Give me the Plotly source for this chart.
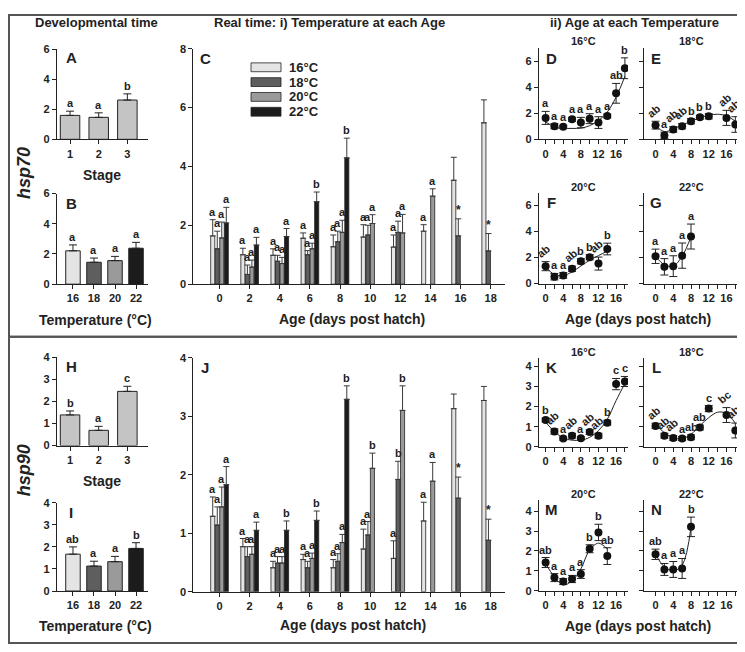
import plotly.graph_objects as go

# The page body keeps its default 8px margin, so the figure is drawn 8px smaller
# and all positions below are given in screen pixels of the 745x652 window.
OFF = 8
W, H = 745 - OFF, 652 - OFF
FONT = "Liberation Sans, Arial, sans-serif"
INK = "#222222"

# ---------------- data ----------------
STAGES = ["1", "2", "3"]
TEMPS = ["16", "18", "20", "22"]
TEMP_NAMES = ["16°C", "18°C", "20°C", "22°C"]
AGES = [0, 2, 4, 6, 8, 10, 12, 14, 16, 18]

# hsp70 - developmental time
a_mean = [1.59, 1.46, 2.61]
a_se = [0.28, 0.30, 0.41]
a_lab = ["a", "a", "b"]
b_mean = [2.21, 1.45, 1.56, 2.38]
b_se = [0.39, 0.28, 0.28, 0.39]
b_lab = ["a", "a", "a", "a"]

# hsp90 - developmental time
h_mean = [1.39, 0.69, 2.46]
h_se = [0.18, 0.18, 0.23]
h_lab = ["b", "a", "c"]
i_mean = [1.67, 1.13, 1.33, 1.93]
i_se = [0.33, 0.22, 0.24, 0.26]
i_lab = ["ab", "a", "a", "b"]

# hsp70 - temperature at each age (panel C)
c16 = [1.64, 1.00, 0.98, 1.56, 1.27, 1.60, 1.26, 1.80, 3.53, 5.48]
c16_se = [0.55, 0.22, 0.22, 0.18, 0.40, 0.42, 0.41, 0.22, 0.78, 0.78]
c18 = [1.20, 0.33, 0.78, 1.00, 1.44, 1.67, 1.76, None, 1.64, 1.13]
c18_se = [0.60, 0.32, 0.20, 0.14, 0.36, 0.33, 0.38, None, 0.58, 0.59]
c20 = [1.57, 0.58, 0.70, 1.20, 1.76, 2.06, 1.74, 2.99, None, None]
c20_se = [0.54, 0.24, 0.21, 0.19, 0.41, 0.30, 0.63, 0.25, None, None]
c22 = [2.08, 1.33, 1.62, 2.80, 4.29, None, None, None, None, None]
c22_se = [0.53, 0.26, 0.27, 0.33, 0.67, None, None, None, None, None]
c16_lab = ["a", "a", "a", "a", "a", "a", "a", "a", "", ""]
c18_lab = ["a", "a", "a", "a", "a", "a", "a", "", "*", "*"]
c20_lab = ["a", "a", "a", "a", "a", "a", "a", "a", "", ""]
c22_lab = ["a", "a", "a", "b", "b", "", "", "", "", ""]

# hsp90 - temperature at each age (panel J)
j16 = [1.29, 0.77, 0.41, 0.55, 0.41, 0.73, 0.57, 1.21, 3.13, 3.27]
j16_se = [0.33, 0.14, 0.11, 0.09, 0.14, 0.34, 0.30, 0.32, 0.25, 0.24]
j18 = [1.14, 0.60, 0.49, 0.41, 0.52, 0.97, 1.92, None, 1.60, 0.88]
j18_se = [0.31, 0.17, 0.11, 0.11, 0.13, 0.23, 0.31, None, 0.36, 0.36]
j20 = [1.45, 0.64, 0.49, 0.57, 0.84, 2.11, 3.10, 1.89, None, None]
j20_se = [0.34, 0.13, 0.11, 0.09, 0.14, 0.26, 0.42, 0.32, None, None]
j22 = [1.83, 1.05, 1.05, 1.22, 3.29, None, None, None, None, None]
j22_se = [0.31, 0.14, 0.16, 0.16, 0.23, None, None, None, None, None]
j16_lab = ["a", "a", "a", "a", "a", "a", "a", "a", "", ""]
j18_lab = ["a", "a", "a", "a", "a", "a", "b", "", "*", "*"]
j20_lab = ["a", "a", "a", "a", "a", "b", "b", "a", "", ""]
j22_lab = ["a", "a", "b", "b", "b", "", "", "", "", ""]

# age at each temperature (hsp70: D-G, hsp90: K-N)
d_age = [0, 2, 4, 6, 8, 10, 12, 14, 16, 18]
d_mean = [1.65, 1.01, 0.96, 1.54, 1.29, 1.59, 1.29, 1.80, 3.54, 5.47]
d_se = [0.50, 0.20, 0.12, 0.15, 0.40, 0.38, 0.45, 0.15, 0.76, 0.80]
d_lab = ["a", "a", "a", "a", "a", "a", "a", "a", "ab", "b"]
d_fit = [1.35, 0.95, 0.85, 0.84, 0.86, 1.05, 1.45, 2.10, 3.25, 4.85]

e_age = [0, 2, 4, 6, 8, 10, 12, 16, 18]
e_mean = [1.09, 0.30, 0.76, 1.01, 1.39, 1.70, 1.77, 1.65, 1.14]
e_se = [0.30, 0.25, 0.22, 0.20, 0.20, 0.15, 0.20, 0.58, 0.60]
e_lab = ["ab", "a", "ab", "ab", "b", "b", "b", "ab", "ab"]
e_fit_age = [0, 2, 4, 6, 8, 10, 12, 14, 16, 18]
e_fit = [1.05, 0.60, 0.78, 1.10, 1.40, 1.65, 1.85, 1.93, 1.80, 1.40]

f_age = [0, 2, 4, 6, 8, 10, 12, 14]
f_mean = [1.34, 0.53, 0.63, 1.14, 1.72, 2.03, 1.54, 2.66]
f_se = [0.35, 0.25, 0.22, 0.20, 0.20, 0.20, 0.50, 0.45]
f_lab = ["ab", "a", "a", "ab", "b", "b", "ab", "b"]
f_fit = [1.30, 0.70, 0.62, 0.90, 1.35, 1.80, 2.15, 2.50]

g_age = [0, 2, 4, 6, 8]
g_mean = [2.10, 1.29, 1.34, 2.15, 3.62]
g_se = [0.55, 0.63, 0.80, 0.97, 0.96]
g_lab = ["a", "a", "a", "a", "a"]
g_fit = [2.10, 1.45, 1.35, 2.10, 3.60]

k_age = [0, 2, 4, 6, 8, 10, 12, 14, 16, 18]
k_mean = [1.33, 0.76, 0.41, 0.55, 0.42, 0.73, 0.55, 1.20, 3.12, 3.25]
k_se = [0.10, 0.13, 0.08, 0.12, 0.08, 0.12, 0.12, 0.12, 0.28, 0.25]
k_lab = ["b", "ab", "a", "ab", "a", "ab", "ab", "b", "c", "c"]
k_fit = [1.22, 0.76, 0.44, 0.33, 0.33, 0.47, 0.81, 1.37, 2.30, 3.15]

l_age = [0, 2, 4, 6, 8, 10, 12, 16, 18]
l_mean = [1.04, 0.55, 0.44, 0.41, 0.47, 0.96, 1.90, 1.58, 0.81]
l_se = [0.13, 0.12, 0.12, 0.10, 0.12, 0.12, 0.15, 0.37, 0.37]
l_lab = ["ab", "ab", "ab", "a", "ab", "ab", "c", "bc", "ab"]
l_fit_age = [0, 2, 4, 6, 8, 10, 12, 14, 16, 18]
l_fit = [1.12, 0.70, 0.45, 0.40, 0.62, 1.05, 1.45, 1.72, 1.66, 1.17]

m_age = [0, 2, 4, 6, 8, 10, 12, 14]
m_mean = [1.42, 0.66, 0.46, 0.59, 0.84, 2.11, 2.93, 1.74]
m_se = [0.25, 0.20, 0.15, 0.18, 0.22, 0.20, 0.41, 0.42]
m_lab = ["ab", "a", "a", "a", "a", "b", "b", "ab"]
m_fit = [1.37, 0.70, 0.30, 0.50, 1.10, 2.05, 2.39, 2.10]

n_age = [0, 2, 4, 6, 8]
n_mean = [1.83, 1.07, 1.07, 1.12, 3.21]
n_se = [0.26, 0.30, 0.40, 0.50, 0.49]
n_lab = ["ab", "a", "a", "a", "b"]
n_fit = [1.83, 1.20, 1.00, 1.28, 3.20]

# ---------------- styling ----------------
BAR_GREYS = ["#e4e4e4", "#5e5e5e", "#9a9a9a", "#1c1c1c"]
STAGE_GREY = "#c4c4c4"
BARGAP = 0.4
TILT = {"E": {0, 2, 3, 7, 8}, "F": {0, 3, 6}, "K": {1, 3, 5, 6}, "L": {0, 1, 2, 7, 8}}

fig = go.Figure()
layout = {}
ann = []
shapes = []


def X(p):
    return (p - OFF) / W


def Y(p):
    return 1 - (p - OFF) / H


def tfont(size, bold=True, color=INK, italic=False):
    d = dict(family=FONT, size=size, color=color, weight="bold" if bold else "normal")
    if italic:
        d["style"] = "italic"
    return d


def panel(n, x0, x1, ytop, ybot, xr, yr, xtickvals, xticktext, ytickvals, ylabels=True):
    sx = "" if n == 1 else str(n)
    common = dict(showline=True, linecolor=INK, linewidth=1.2, ticks="outside", ticklen=4,
                  tickwidth=1, tickcolor=INK, showgrid=False, zeroline=False,
                  tickfont=tfont(11), fixedrange=True)
    layout["xaxis" + sx] = dict(common, domain=[X(x0), X(x1)], range=xr, anchor="y" + sx,
                                tickmode="array", tickvals=xtickvals, ticktext=xticktext)
    layout["yaxis" + sx] = dict(common, domain=[Y(ybot), Y(ytop)], range=yr,
                                anchor="x" + sx, tickmode="array", tickvals=ytickvals,
                                showticklabels=ylabels)
    return "x" + sx, "y" + sx


def text(x, y, s, size, bold=True, italic=False, angle=0, xanchor="center"):
    ann.append(dict(x=X(x), y=Y(y), xref="paper", yref="paper", text=s, showarrow=False,
                    font=tfont(size, bold, italic=italic), textangle=angle,
                    xanchor=xanchor, yanchor="middle"))


def err(se, color=INK, width=3, up_only=True):
    d = dict(type="data", array=se, color=color, thickness=1, width=width, visible=True)
    if up_only:
        d.update(symmetric=False, arrayminus=[0] * len(se))
    return d


def bar_labels(xa, ya, xs, means, ses, labs, size=10):
    for x, m, s, t in zip(xs, means, ses, labs):
        if m is None or not t:
            continue
        ann.append(dict(x=x, y=m + s, xref=xa, yref=ya, text=t, showarrow=False,
                        font=tfont(size if t != "*" else 12), xanchor="center",
                        yanchor="bottom", yshift=0))


# ---- simple bar panels (A, B, H, I) ----
def stage_panel(n, ytop, ybot, ymax, means, ses, labs, letter):
    xa, ya = panel(n, 57, 148, ytop, ybot, [0.545, 3.72], [0, ymax], [1, 2, 3], STAGES,
                   list(range(0, ymax + 1, 2 if ymax > 4 else 1)))
    fig.add_trace(go.Bar(x=[1, 2, 3], y=means, width=0.68, xaxis=xa, yaxis=ya,
                         marker=dict(color=STAGE_GREY, line=dict(color=INK, width=1)),
                         error_y=err(ses, width=4), showlegend=False))
    bar_labels(xa, ya, [1, 2, 3], means, ses, labs, 11)
    text(72, ytop + 9, letter, 15)


def temp_panel(n, ytop, ybot, ymax, means, ses, labs, letter):
    xa, ya = panel(n, 57, 148, ytop, ybot, [-0.76, 3.57], [0, ymax], [0, 1, 2, 3], TEMPS,
                   list(range(0, ymax + 1, 2 if ymax > 4 else 1)))
    fig.add_trace(go.Bar(x=[0, 1, 2, 3], y=means, width=0.69, xaxis=xa, yaxis=ya,
                         marker=dict(color=BAR_GREYS, line=dict(color=INK, width=1)),
                         error_y=err(ses, width=4), showlegend=False))
    bar_labels(xa, ya, [0, 1, 2, 3], means, ses, labs, 11)
    text(71, ytop + 10, letter, 15)


stage_panel(1, 43.7, 135.7, 6, a_mean, a_se, a_lab, "A")
temp_panel(2, 191, 283.3, 6, b_mean, b_se, b_lab, "B")
stage_panel(3, 358, 447.7, 4, h_mean, h_se, h_lab, "H")
temp_panel(4, 506, 596, 4, i_mean, i_se, i_lab, "I")


# ---- grouped bar panels (C, J) ----
def age_bars(n, ytop, ybot, ymax, ystep, series, ses, labs, letter):
    xa, ya = panel(n, 193.3, 505, ytop, ybot, [-1.74, 18.95], [0, ymax], AGES,
                   [str(a) for a in AGES], list(range(0, ymax + 1, ystep)))
    slot = 2 * (1 - BARGAP) / 4
    for k, (vals, se, lab) in enumerate(zip(series, ses, labs)):
        se0 = [s if s is not None else 0 for s in se]
        fig.add_trace(go.Bar(x=AGES, y=vals, xaxis=xa, yaxis=ya, name=TEMP_NAMES[k],
                             marker=dict(color=BAR_GREYS[k], line=dict(color=INK, width=0.8)),
                             error_y=err(se0, color="#3a3a3a", width=3),
                             showlegend=False))
        xs = [a + (k - 1.5) * slot for a in AGES]
        bar_labels(xa, ya, xs, vals, se0, lab, 11)
    text(205, ytop + 10, letter, 15)


age_bars(5, 43.3, 283.3, 8, 2, [c16, c18, c20, c22], [c16_se, c18_se, c20_se, c22_se],
         [c16_lab, c18_lab, c20_lab, c22_lab], "C")
age_bars(6, 358.3, 596.7, 4, 1, [j16, j18, j20, j22], [j16_se, j18_se, j20_se, j22_se],
         [j16_lab, j18_lab, j20_lab, j22_lab], "J")

# legend for C
for k, name in enumerate(TEMP_NAMES):
    yc = 62.3 + k * 15.1
    shapes.append(dict(type="rect", xref="paper", yref="paper", x0=X(251), x1=X(281),
                       y0=Y(yc + 4.5), y1=Y(yc - 4.5),
                       fillcolor=BAR_GREYS[k], line=dict(color=INK, width=0.8)))
    text(287, yc, name, 13, xanchor="left")


# ---- age-at-temperature panels ----
AGE_TICKS = list(range(0, 19, 2))
AGE_TEXT = [str(a) if a % 4 == 0 else "" for a in AGE_TICKS]


def age_panel(n, key, x0, x1, ytop, ybot, xr, ymax, ytv, ylabels, age, mean, se, lab,
              fit_age, fit, title, ty):
    xa, ya = panel(n, x0, x1, ytop, ybot, xr, [0, ymax], AGE_TICKS, AGE_TEXT, ytv, ylabels)
    fig.add_trace(go.Scatter(x=fit_age, y=fit, mode="lines",
                             line=dict(color=INK, width=1, shape="spline"),
                             xaxis=xa, yaxis=ya, showlegend=False, hoverinfo="skip"))
    fig.add_trace(go.Scatter(x=age, y=mean, mode="markers", xaxis=xa, yaxis=ya, showlegend=False,
                             marker=dict(color="#111111", size=8),
                             error_y=err(se, color=INK, width=4, up_only=False)))
    tilt = TILT.get(key, set())
    for idx, (a, m, s, t) in enumerate(zip(age, mean, se, lab)):
        rot = idx in tilt
        ann.append(dict(x=a, y=m + s, xref=xa, yref=ya, text=t, showarrow=False,
                        font=tfont(11), textangle=-40 if rot else 0,
                        xanchor="center", yanchor="bottom", yshift=-1 if rot else 0,
                        xshift=-2 if rot else 0))
    text(x0 + 12, ytop + 10, key, 15)
    text((x0 + x1) / 2, ty, title, 11)


DX, EX = (539, 628, [-1.5, 18.7]), (644, 738, [-2.6, 18.6])
age_panel(7, "D", *DX[:2], 43, 135.7, DX[2], 7, [0, 2, 4, 6], True, d_age, d_mean, d_se, d_lab,
          d_age, d_fit, TEMP_NAMES[0], 36)
age_panel(8, "E", *EX[:2], 43, 135.7, EX[2], 7, [0, 2, 4, 6], False, e_age, e_mean, e_se, e_lab,
          e_fit_age, e_fit, TEMP_NAMES[1], 36)
age_panel(9, "F", *DX[:2], 190, 282.7, DX[2], 7, [0, 2, 4, 6], True, f_age, f_mean, f_se, f_lab,
          f_age, f_fit, TEMP_NAMES[2], 184)
age_panel(10, "G", *EX[:2], 190, 282.7, EX[2], 7, [0, 2, 4, 6], False, g_age, g_mean, g_se, g_lab,
          g_age, g_fit, TEMP_NAMES[3], 184)
age_panel(11, "K", *DX[:2], 358.5, 449, DX[2], 4.42, [0, 1, 2, 3, 4], True, k_age, k_mean, k_se,
          k_lab, k_age, k_fit, TEMP_NAMES[0], 352)
age_panel(12, "L", *EX[:2], 358.5, 449, EX[2], 4.42, [0, 1, 2, 3, 4], False, l_age, l_mean, l_se,
          l_lab, l_fit_age, l_fit, TEMP_NAMES[1], 352)
age_panel(13, "M", *DX[:2], 503, 595.7, DX[2], 4.57, [0, 1, 2, 3, 4], True, m_age, m_mean, m_se,
          m_lab, m_age, m_fit, TEMP_NAMES[2], 497)
age_panel(14, "N", *EX[:2], 503, 595.7, EX[2], 4.57, [0, 1, 2, 3, 4], False, n_age, n_mean, n_se,
          n_lab, n_age, n_fit, TEMP_NAMES[3], 497)

# ---- headers, axis titles ----
text(96, 17, "Developmental time", 13)
text(329, 17, "Real time: i) Temperature at each Age", 13)
text(634, 17, "ii) Age at each Temperature", 13)
text(24, 170, "hsp70", 18, italic=True, angle=-90)
text(24, 473, "hsp90", 18, italic=True, angle=-90)
text(102, 172, "Stage", 14)
text(102, 484, "Stage", 14)
text(95, 320, "Temperature (°C)", 14)
text(95, 632, "Temperature (°C)", 14)
text(352, 319, "Age (days post hatch)", 14)
text(638, 319, "Age (days post hatch)", 14)
text(353, 631, "Age (days post hatch)", 14)
text(638, 632, "Age (days post hatch)", 14)

# frames (the left/top edges sit at the body margin)
for y0, y1 in [(OFF + 1, 337), (337, 649)]:
    shapes.append(dict(type="rect", xref="paper", yref="paper", x0=X(OFF + 1), x1=X(743.5),
                       y0=Y(y1), y1=Y(y0), line=dict(color="#555555", width=2)))

fig.update_layout(layout)
fig.update_layout(width=W, height=H, margin=dict(l=0, r=0, t=0, b=0), autosize=False,
                  paper_bgcolor="white", plot_bgcolor="white", barmode="group",
                  bargap=BARGAP, bargroupgap=0.1, annotations=ann, shapes=shapes,
                  font=dict(family=FONT, color=INK), showlegend=False)
fig.write_html("out.html")
